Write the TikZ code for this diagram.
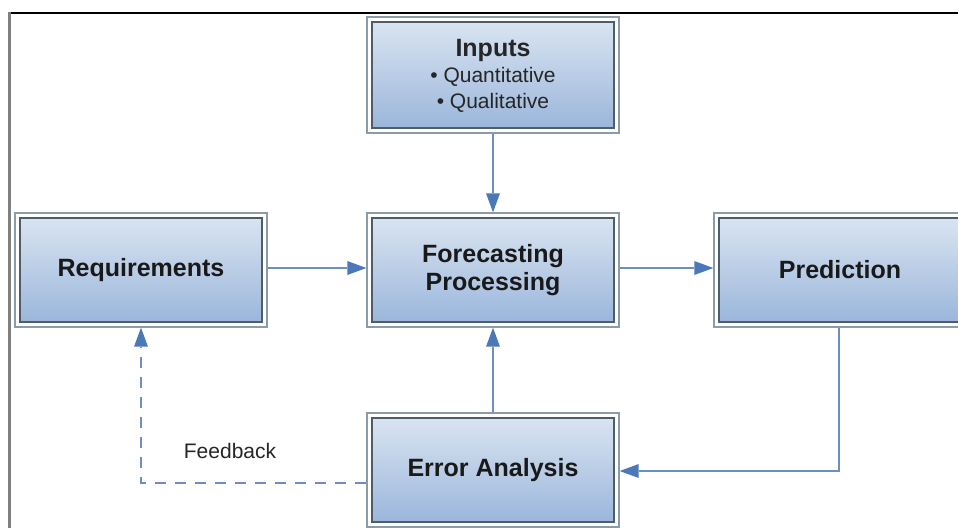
\documentclass[tikz,border=0pt]{standalone}
\usepackage{fontspec}
\setmainfont{Liberation Sans}
\usetikzlibrary{arrows.meta}
\definecolor{outerc}{HTML}{8C9BA8}
\definecolor{innerc}{HTML}{4E5D6C}
\definecolor{topc}{HTML}{DCE6F2}
\definecolor{botc}{HTML}{98B4DA}
\definecolor{linkc}{HTML}{6C8EC2}
\definecolor{tipc}{HTML}{4A78B8}
\definecolor{framegray}{HTML}{808080}
\tikzset{
  box/.style={draw=outerc, line width=1.4pt, fill=white,
    minimum width=252pt, minimum height=114pt, inner sep=0pt,
    align=center, font=\fontsize{25}{29}\selectfont\bfseries, text=black!90,
    path picture={\draw[draw=innerc, line width=1.8pt, top color=topc, bottom color=botc]
      ([xshift=5pt,yshift=-5pt]path picture bounding box.north west) rectangle
      ([xshift=-5pt,yshift=5pt]path picture bounding box.south east);}},
  link/.style={draw=linkc, line width=2.9pt,
    -{Triangle[length=19pt,width=14pt,fill=tipc,line width=0pt]}},
  feedlink/.style={link, dash pattern=on 11pt off 9pt},
  lbl/.style={font=\fontsize{21}{25}\selectfont, text=black!85}
}
\begin{document}
\begin{tikzpicture}[x=1pt,y=-1pt]
  \clip (0,0) rectangle (958,528);
  \fill[white] (0,0) rectangle (958,528);
  % page frame
  \draw[black, line width=2pt] (9,13) -- (958,13);
  \draw[framegray, line width=3pt] (9.5,12) -- (9.5,528);

  % blocks
  \node[box, minimum height=116pt] (inp) at (493,75) {};
  \node[lbl, font=\fontsize{25}{29}\selectfont\bfseries] (inpt) at (493,50) {Inputs};
  \node[lbl] (q1) at (493,77) {\textbullet\ Quantitative};
  \node[lbl] (q2) at (493,103) {\textbullet\ Qualitative};

  \node[box] (req) at (141,270) {Requirements};
  \node[box] (fc) at (493,270) {Forecasting\\[-1pt]Processing};
  \node[box] (pred) at (840,270) {Prediction};
  \node[box] (err) at (493,470) {Error Analysis};

  % connectors
  \draw[link] (inp) -- (fc);
  \draw[link] (req.east |- 0,268) -- (fc.west |- 0,268);
  \draw[link] (fc.east |- 0,268) -- (pred.west |- 0,268);
  \draw[link] (err) -- (fc);
  \draw[link] (pred.south -| 839,0) |- (err.east |- 0,471);
  \coordinate (fbstart) at ([yshift=-13pt]err.west);
  \draw[feedlink] (fbstart) -| (req.south);
  \node[lbl] (fb) at (230,451) {Feedback};
\end{tikzpicture}
\end{document}
